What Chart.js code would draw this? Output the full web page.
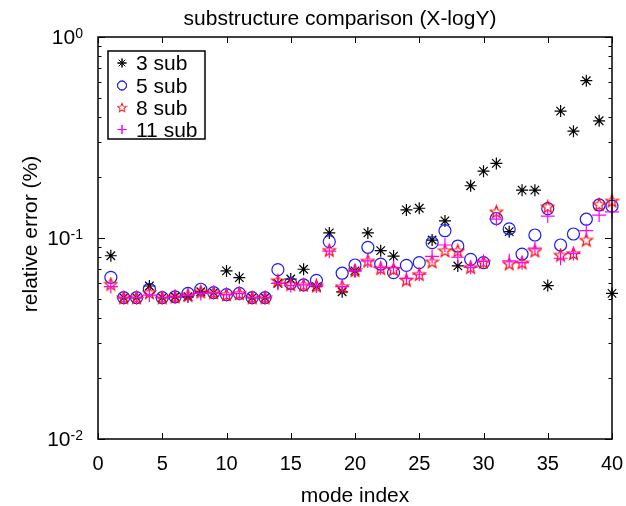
<!DOCTYPE html>
<html>
<head>
<meta charset="utf-8">
<script src="https://cdn.jsdelivr.net/npm/chart.js@4"></script>
<style>
  html, body { margin: 0; padding: 0; background: #fff; }
  #wrap { width: 626px; height: 506px; }
</style>
</head>
<body>
<div id="wrap"><canvas id="chart" width="626" height="506"></canvas></div>
<script>
// mode index 1..40
const modes = [1,2,3,4,5,6,7,8,9,10,11,12,13,14,15,16,17,18,19,20,
               21,22,23,24,25,26,27,28,29,30,31,32,33,34,35,36,37,38,39,40];

const sub3 = [0.0816, 0.0505, 0.0505, 0.0577, 0.0505, 0.051, 0.051, 0.054, 0.0535, 0.0686,
              0.0635, 0.0505, 0.0505, 0.0595, 0.0625, 0.0699, 0.0573, 0.106, 0.054, 0.0686,
              0.106, 0.0865, 0.0813, 0.138, 0.1406, 0.0977, 0.1216, 0.0726, 0.182, 0.215,
              0.235, 0.1075, 0.173, 0.173, 0.058, 0.428, 0.34, 0.606, 0.383, 0.053];
const sub5 = [0.0637, 0.0505, 0.0505, 0.0556, 0.0505, 0.051, 0.053, 0.0556, 0.0535, 0.0523,
              0.053, 0.0505, 0.0505, 0.0696, 0.0595, 0.0584, 0.0616, 0.096, 0.0668, 0.0734,
              0.0899, 0.0742, 0.0673, 0.0731, 0.0754, 0.0948, 0.1087, 0.0912, 0.0783, 0.0754,
              0.125, 0.111, 0.0832, 0.1035, 0.14, 0.0923, 0.1047, 0.124, 0.146, 0.144];
const sub8 = [0.059, 0.0505, 0.0505, 0.0535, 0.0505, 0.051, 0.052, 0.054, 0.0535, 0.0523,
              0.053, 0.0505, 0.0505, 0.0613, 0.0588, 0.0584, 0.0578, 0.087, 0.0573, 0.069,
              0.0769, 0.0707, 0.0699, 0.0618, 0.066, 0.0762, 0.0865, 0.0863, 0.0715, 0.076,
              0.135, 0.0745, 0.0754, 0.0863, 0.143, 0.0823, 0.0838, 0.0977, 0.147, 0.153];
const sub11 = [0.0573, 0.0505, 0.0505, 0.052, 0.0505, 0.051, 0.052, 0.053, 0.0535, 0.0523,
               0.053, 0.0505, 0.0505, 0.0595, 0.058, 0.0584, 0.0578, 0.086, 0.0573, 0.0686,
               0.0769, 0.0712, 0.0712, 0.063, 0.066, 0.081, 0.0923, 0.0802, 0.0715, 0.0765,
               0.124, 0.077, 0.0754, 0.089, 0.1286, 0.0793, 0.0838, 0.1087, 0.130, 0.135];

const seriesNames = ['3 sub', '5 sub', '8 sub', '11 sub'];
const xTicks = [0, 5, 10, 15, 20, 25, 30, 35, 40];
const yTicks = [0.01, 0.1, 1];
const yTickLabels = [['10', '-2'], ['10', '-1'], ['10', '0']];

const FONT = '"Liberation Sans", Arial, sans-serif';

// red pentagram marker
function makePentagram(size, color) {
  const c = document.createElement('canvas');
  c.width = size; c.height = size;
  const g = c.getContext('2d');
  const cx = size / 2, cy = size / 2 + 0.5, ro = size / 2 - 1, ri = ro * 0.42;
  g.beginPath();
  for (let i = 0; i < 10; i++) {
    const r = i % 2 === 0 ? ro : ri;
    const a = -Math.PI / 2 + i * Math.PI / 5;
    const px = cx + r * Math.cos(a), py = cy + r * Math.sin(a);
    if (i === 0) g.moveTo(px, py); else g.lineTo(px, py);
  }
  g.closePath();
  g.strokeStyle = color;
  g.lineWidth = 1.2;
  g.stroke();
  return c;
}
const pentagram = makePentagram(15, '#ff0000');

function pts(arr) {
  return modes.map((m, i) => ({ x: m, y: arr[i] }));
}

const datasets = [
  { label: seriesNames[0], data: pts(sub3), pointStyle: 'star', pointRadius: 6,
    borderColor: '#000000', backgroundColor: '#000000', pointBorderWidth: 1.2, order: 4 },
  { label: seriesNames[1], data: pts(sub5), pointStyle: 'circle', pointRadius: 6,
    borderColor: '#1a1aff', backgroundColor: 'rgba(0,0,0,0)', pointBorderWidth: 1.2, order: 3 },
  { label: seriesNames[2], data: pts(sub8), pointStyle: pentagram, pointRadius: 7,
    borderColor: '#ff0000', backgroundColor: '#ff0000', pointBorderWidth: 1.2, order: 2 },
  { label: seriesNames[3], data: pts(sub11), pointStyle: 'cross', pointRadius: 7,
    borderColor: '#ff00ff', backgroundColor: '#ff00ff', pointBorderWidth: 1.2, order: 1 }
];
datasets.forEach(d => { d.showLine = false; d.clip = false; d.pointHoverRadius = d.pointRadius; });

// frame, inward ticks, labels and legend
const decor = {
  id: 'decor',
  afterDatasetsDraw(chart) {
    const g = chart.ctx;
    const a = chart.chartArea;
    const xs = chart.scales.x, ys = chart.scales.y;
    g.save();
    g.strokeStyle = '#000';
    g.fillStyle = '#000';
    g.lineWidth = 1.5;
    g.strokeRect(a.left, a.top, a.right - a.left, a.bottom - a.top);

    g.lineWidth = 1;
    g.beginPath();
    xTicks.forEach(t => {
      const px = Math.round(xs.getPixelForValue(t)) + 0.5;
      g.moveTo(px, a.bottom); g.lineTo(px, a.bottom - 6);
      g.moveTo(px, a.top); g.lineTo(px, a.top + 6);
    });
    for (let e = -2; e < 0; e++) {
      for (let k = 1; k <= 10; k++) {
        const v = k * Math.pow(10, e);
        const py = Math.round(ys.getPixelForValue(v)) + 0.5;
        const len = (k === 1 || k === 10) ? 7 : 3.5;
        g.moveTo(a.left, py); g.lineTo(a.left + len, py);
        g.moveTo(a.right, py); g.lineTo(a.right - len, py);
      }
    }
    g.stroke();

    // x tick labels
    g.font = '20px ' + FONT;
    g.textAlign = 'center';
    g.textBaseline = 'alphabetic';
    xTicks.forEach(t => g.fillText(String(t), xs.getPixelForValue(t), a.bottom + 31));

    // y tick labels with superscript
    yTicks.forEach((t, i) => {
      const py = ys.getPixelForValue(t);
      const base = yTickLabels[i][0], sup = yTickLabels[i][1];
      g.font = '14px ' + FONT;
      const wSup = g.measureText(sup).width;
      g.font = '21px ' + FONT;
      const wBase = g.measureText(base).width;
      const right = a.left - 15;
      g.textAlign = 'left';
      g.textBaseline = 'alphabetic';
      g.fillText(base, right - wSup - wBase, py + 7);
      g.font = '14px ' + FONT;
      g.fillText(sup, right - wSup, py + 1);
    });

    // titles
    const cx = (a.left + a.right) / 2;
    g.textAlign = 'center';
    g.textBaseline = 'alphabetic';
    g.font = '21px ' + FONT;
    g.fillText('substructure comparison (X-logY)', cx - 15, 25);
    g.fillText('mode index', cx, 502);
    g.save();
    g.translate(37, 234);
    g.rotate(-Math.PI / 2);
    g.fillText('relative error (%)', 0, 0);
    g.restore();

    // legend box
    const lx = 108, ly = 51, lw = 97, lh = 88;
    g.fillStyle = '#fff';
    g.fillRect(lx, ly, lw, lh);
    g.strokeStyle = '#000';
    g.lineWidth = 1.5;
    g.strokeRect(lx, ly, lw, lh);
    const rows = [70, 92.5, 114.5, 136.5];
    chart.data.datasets.forEach((d, i) => {
      const ps = d.pointStyle;
      const my = rows[i] - 7;
      g.lineWidth = 1;
      g.strokeStyle = d.borderColor;
      g.fillStyle = d.backgroundColor;
      if (typeof ps === 'string') {
        Chart.helpers.drawPoint(g, { pointStyle: ps, radius: 4.5, borderWidth: 1 }, 122, my);
        g.stroke();
      } else {
        g.drawImage(ps, 122 - 5.5, my - 5.5, 11, 11);
      }
      g.fillStyle = '#000';
      g.font = '21px ' + FONT;
      g.textAlign = 'left';
      g.textBaseline = 'alphabetic';
      g.fillText(d.label, 136, rows[i]);
    });
    g.restore();
  }
};

new Chart(document.getElementById('chart'), {
  type: 'scatter',
  data: { datasets: datasets },
  options: {
    responsive: false,
    animation: false,
    devicePixelRatio: 1,
    layout: { padding: { left: 98, right: 14, top: 37, bottom: 67 } },
    plugins: {
      legend: { display: false },
      title: { display: false },
      tooltip: { enabled: false }
    },
    scales: {
      x: { type: 'linear', min: 0, max: 40, display: false },
      y: { type: 'logarithmic', min: 0.01, max: 1, display: false }
    }
  },
  plugins: [decor]
});
</script>
</body>
</html>
